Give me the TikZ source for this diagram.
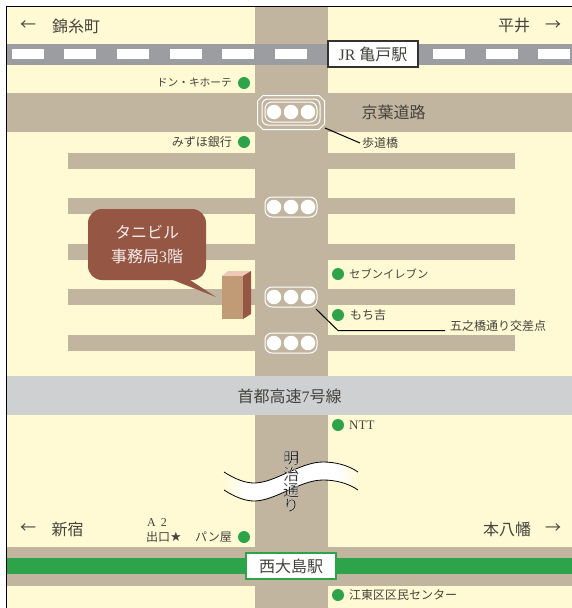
\documentclass[tikz,border=0pt]{standalone}
\usepackage{fontspec}
\setmainfont{Liberation Serif}
\newfontfamily\cjk{Noto Sans CJK JP}
\usetikzlibrary{calc}
\definecolor{cream}{HTML}{FFFAD4}
\definecolor{road}{HTML}{C2B59F}
\definecolor{rail}{HTML}{9C9DA0}
\definecolor{expwy}{HTML}{CFD0D2}
\definecolor{grn}{HTML}{2DA44A}
\definecolor{brick}{HTML}{965644}
\definecolor{bldg}{HTML}{C19B76}
\definecolor{bldgtop}{HTML}{EFC9B8}
\definecolor{ink}{HTML}{44433E}
\tikzset{
  x=1pt,y=-1pt,
  lbl/.style={inner sep=0pt,text=ink,font=\cjk\fontsize{#1}{#1}\selectfont},
  lbl/.default=12,
  dot/.style={circle,fill=grn,minimum size=12pt,inner sep=0pt},
  lamp/.style={circle,fill=white,minimum size=14.5pt,inner sep=0pt},
  signal/.style={rounded corners=7pt,draw=white,line width=1pt,minimum width=52pt,minimum height=20pt,inner sep=0pt},
  stbox/.style={draw=#1,fill=white,line width=1.2pt,minimum width=90pt,minimum height=26pt,inner sep=0pt},
  leader/.style={draw=black,line width=1pt},
}
\newcommand{\lamps}[1]{%
  \node[lamp] at (274,#1) {};\node[lamp] at (291,#1) {};\node[lamp] at (308,#1) {};}
\newcommand{\halo}[1]{\special{pdf:code q 2 Tr 0.18 w 1 1 1 RG 0.1 g}#1\special{pdf:code Q}}
\begin{document}
\begin{tikzpicture}
\useasboundingbox (0,0) rectangle (572,608);
\fill[white] (0,0) rectangle (572,608);
\fill[cream] (6.5,7) rectangle (572,608);
% roads
\fill[road] (6.5,93) rectangle (572,132);
\foreach \y in {153,198,244,289,335} \fill[road] (68,\y) rectangle (515,\y+16);
\fill[road] (255,7) rectangle (328,608);
\fill[road] (6.5,547) rectangle (572,586);
\fill[grn] (6.5,558) rectangle (572,574);
\fill[expwy] (6.5,376) rectangle (572,415);
\draw[black,line width=1pt] (6.5,608) -- (6.5,6.5) -- (572,6.5);
% railway
\fill[rail] (6.5,44) rectangle (572,65);
\foreach \x in {12,64,117,170,222,275,433,486,538} \fill[white] (\x,49) rectangle (\x+32,59);
\node[stbox=black!80,font=\fontsize{16}{16}\selectfont,text=ink] (kameido) at (373,54) {JR {\cjk 亀戸駅}};
% place labels
\node[lbl=16] (a1) at (28,26) {←};
\node[lbl=16] (kinshi) at (76,26) {錦糸町};
\node[lbl=16] (hirai) at (514,26) {平井};
\node[lbl=16] (a2) at (553,26) {→};
\node[lbl=16] (a3) at (28,529) {←};
\node[lbl=16] (shinjuku) at (67.5,529) {新宿};
\node[lbl=16] (moto) at (507,529) {本八幡};
\node[lbl=16] (a4) at (553,529) {→};
\node[lbl=16] (keiyo) at (393.5,112) {京葉道路};
\node[lbl=16] (shuto) at (289.5,396) {首都高速{\rmfamily 7}号線};
% shops
\node[dot] (d1) at (244,83) {};
\node[lbl=10.7,anchor=east] (s1) at (232,83) {ドン・キホーテ};
\node[dot] (d2) at (244,142) {};
\node[lbl,anchor=east] (s2) at (232,142) {みずほ銀行};
\node[dot] (d3) at (338,274) {};
\node[lbl=11.3,anchor=west] (s3) at (349,274) {セブンイレブン};
\node[dot] (d4) at (338,315) {};
\node[lbl,anchor=west] (s4) at (350,315) {もち吉};
\node[dot] (d5) at (338,425) {};
\node[lbl,anchor=west,font=\fontsize{13}{13}\selectfont] (s5) at (349,425) {NTT};
\node[dot] (d6) at (244,537) {};
\node[lbl,anchor=east] (s6) at (232,537) {パン屋};
\node[dot] (d7) at (338,595) {};
\node[lbl,anchor=west] (s7) at (349,595) {江東区区民センター};
\node[lbl,font=\fontsize{12}{12}\selectfont] (a2l) at (157,523) {A\hspace{5pt}2};
\node[lbl,anchor=west] (exit) at (146,537) {出口{\fontspec{DejaVu Sans}\fontsize{13}{13}\selectfont ★}};
% signals
\node[signal] (sg1) at (291,207) {}; \lamps{207}
\node[signal] (sg2) at (291,297) {}; \lamps{297}
\node[signal] (sg3) at (291,343) {}; \lamps{343}
% footbridge
\node[signal] (sg0) at (291,112) {}; \lamps{112}
\node[signal,minimum width=58pt,minimum height=26pt,rounded corners=6pt] (sg0b) at (291,112) {};
\draw[white,line width=1pt] (263,95.5) -- (319,95.5) -- (324.5,101) -- (324.5,124) -- (319,129.5) -- (263,129.5) -- (257.5,124) -- (257.5,101) -- cycle;
\coordinate (c1) at (325,128);
\coordinate (c2) at (360,143);
\draw[leader] (c1) -- (c2);
\node[lbl,anchor=west] (bridge) at (362,143) {歩道橋};
\coordinate (c3) at (316,309);
\coordinate (c4) at (338,330.5);
\coordinate (c5) at (445,330.5);
\draw[leader] (c3) -- (c4) -- (c5);
\node[lbl,anchor=west] (gono) at (450,326) {五之橋通り交差点};
% building and callout
\fill[bldgtop] (222,276) -- (228,271) -- (251,271) -- (243,276) -- cycle;
\fill[brick] (243,276) -- (251,271) -- (251,314) -- (243,319) -- cycle;
\fill[bldg] (222,276) rectangle (243,319);
\fill[brick] (216,297) -- (173,280) -- (190,280) -- cycle;
\node[fill=brick,rounded corners=14pt,minimum width=118pt,minimum height=71pt,align=center,text=white!90!brick,inner sep=0pt,font=\cjk\fontsize{16}{24}\selectfont] (tani) at (147,244.5) {タニビル\\事務局{\rmfamily 3}階};
% Meiji dori break
\begin{scope}
\clip (224,472) .. controls (235,479) and (245,483) .. (254,483) .. controls (275,483) and (300,462) .. (323,462) .. controls (335,462) and (348,465) .. (358,472) -- (358,490) .. controls (348,483) and (335,480) .. (323,480) .. controls (300,480) and (275,501) .. (254,501) .. controls (245,501) and (235,497) .. (224,490) -- cycle;
\shade[left color=cream,right color=white] (224,450) rectangle (245,510);
\fill[white] (244.5,450) rectangle (338.5,510);
\shade[left color=white,right color=cream] (338,450) rectangle (358,510);
\end{scope}
\draw[black,line width=.8pt] (224,472) .. controls (235,479) and (245,483) .. (254,483) .. controls (275,483) and (300,462) .. (323,462) .. controls (335,462) and (348,465) .. (358,472);
\draw[black,line width=.8pt] (224,490) .. controls (235,497) and (245,501) .. (254,501) .. controls (275,501) and (300,480) .. (323,480) .. controls (335,480) and (348,483) .. (358,490);
\node[lbl=16] (m1) at (291,458) {\halo{明}};
\node[lbl=16] (m2) at (291,474) {\halo{治}};
\node[lbl=16] (m3) at (291,490) {\halo{通}};
\node[lbl=16] (m4) at (291,505) {\halo{り}};
% Nishi-ojima
\node[stbox=grn,font=\cjk\fontsize{16}{16}\selectfont,text=ink] (nishi) at (291,566) {西大島駅};
\end{tikzpicture}
\end{document}
